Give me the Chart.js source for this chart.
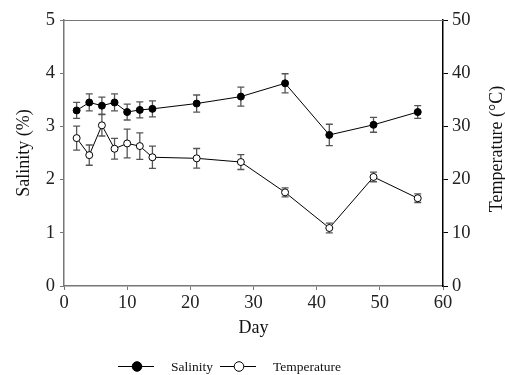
<!DOCTYPE html>
<html>
<head>
<meta charset="utf-8">
<script src="https://cdn.jsdelivr.net/npm/chart.js@4"></script>
<style>
  html, body { margin: 0; padding: 0; background: #fff; }
  #wrap { width: 505px; height: 375px; }
</style>
</head>
<body>
<div id="wrap"><canvas id="chart" width="505" height="375"></canvas></div>
<script>
// values
var days = [2, 4, 6, 8, 10, 12, 14, 21, 28, 35, 42, 49, 56];
var salinity = [3.30, 3.45, 3.39, 3.45, 3.27, 3.31, 3.33, 3.43, 3.56, 3.81, 2.84, 3.03, 3.27];
var salinityErr = [0.15, 0.16, 0.16, 0.16, 0.15, 0.15, 0.15, 0.16, 0.18, 0.18, 0.20, 0.14, 0.12];
var temperature = [27.8, 24.6, 30.2, 25.8, 26.8, 26.3, 24.2, 24.0, 23.3, 17.6, 10.9, 20.5, 16.5];
var temperatureErr = [2.25, 1.9, 2.0, 1.95, 2.7, 2.5, 2.1, 1.85, 1.4, 0.85, 0.9, 0.9, 0.8];
var xTicks = [0, 10, 20, 30, 40, 50, 60];

var serif = "'Liberation Serif', 'Times New Roman', serif";

function pairs(ys) {
  return days.map(function(d, i) { return { x: d, y: ys[i] }; });
}

// error bars, drawn under the markers
var errorBars = {
  id: 'errorBars',
  beforeDatasetsDraw: function(chart) {
    var ctx = chart.ctx;
    var xs = chart.scales.x;
    ctx.save();
    ctx.strokeStyle = '#555';
    ctx.lineWidth = 1.3;
    chart.data.datasets.forEach(function(ds) {
      var ys = chart.scales[ds.yAxisID];
      ds.errors.forEach(function(e, i) {
        var px = xs.getPixelForValue(days[i]);
        var top = ys.getPixelForValue(ds.data[i].y + e);
        var bot = ys.getPixelForValue(ds.data[i].y - e);
        ctx.beginPath();
        ctx.moveTo(px, top); ctx.lineTo(px, bot);
        ctx.moveTo(px - 3.5, top); ctx.lineTo(px + 3.5, top);
        ctx.moveTo(px - 3.5, bot); ctx.lineTo(px + 3.5, bot);
        ctx.stroke();
      });
    });
    ctx.restore();
  }
};

// top frame line, right-hand title (reads bottom to top) and the legend row
var extras = {
  id: 'extras',
  afterDraw: function(chart) {
    var a = chart.chartArea, ctx = chart.ctx;
    ctx.save();
    ctx.strokeStyle = '#777';
    ctx.lineWidth = 1;
    ctx.beginPath();
    ctx.moveTo(a.left, a.top + 0.5);
    ctx.lineTo(a.right, a.top + 0.5);
    ctx.stroke();

    // right axis title
    ctx.fillStyle = '#111';
    ctx.font = '18px ' + serif;
    ctx.textAlign = 'center';
    ctx.textBaseline = 'middle';
    ctx.save();
    ctx.translate(497, (a.top + a.bottom) / 2 - 4);
    ctx.rotate(-Math.PI / 2);
    ctx.fillText('Temperature (°C)', 0, 0);
    ctx.restore();

    // legend
    var y = 366, x = 118;
    ctx.font = '13.5px ' + serif;
    ctx.textAlign = 'left';
    chart.data.datasets.forEach(function(ds, i) {
      ctx.strokeStyle = '#000';
      ctx.lineWidth = 1;
      ctx.beginPath(); ctx.moveTo(x, y + 0.5); ctx.lineTo(x + 36, y + 0.5); ctx.stroke();
      ctx.beginPath(); ctx.arc(x + 19, y + 0.5, 4.8, 0, Math.PI * 2);
      ctx.fillStyle = ds.pointBackgroundColor;
      ctx.fill(); ctx.stroke();
      ctx.fillStyle = '#111';
      ctx.fillText(ds.label, x + 53, y + 1);
      x += 53 + ctx.measureText(ds.label).width + 7;
    });
    ctx.restore();
  }
};

var config = {
  type: 'line',
  data: {
    datasets: [
      {
        label: 'Salinity',
        data: pairs(salinity),
        errors: salinityErr,
        yAxisID: 'y',
        borderColor: '#000',
        borderWidth: 1,
        pointRadius: 3.5,
        pointBackgroundColor: '#000',
        pointBorderColor: '#000',
        pointBorderWidth: 1,
        fill: false
      },
      {
        label: 'Temperature',
        data: pairs(temperature),
        errors: temperatureErr,
        yAxisID: 'y2',
        borderColor: '#000',
        borderWidth: 1,
        pointRadius: 3.5,
        pointBackgroundColor: '#fff',
        pointBorderColor: '#000',
        pointBorderWidth: 1,
        fill: false
      }
    ]
  },
  options: {
    responsive: false,
    animation: false,
    layout: { padding: { top: 20, right: 0, left: 0, bottom: 0 } },
    plugins: {
      tooltip: { enabled: false },
      legend: { display: false }
    },
    scales: {
      x: {
        type: 'linear',
        min: 0, max: 60,
        afterBuildTicks: function(s) { s.ticks = xTicks.map(function(v) { return { value: v }; }); },
        grid: { drawOnChartArea: false, tickLength: 4, color: '#777' },
        border: { color: '#777', width: 1.5 },
        ticks: { color: '#222', padding: 2, maxRotation: 0, font: { family: serif, size: 18.5 } },
        title: { display: true, text: 'Day', color: '#111', padding: { top: 0, bottom: 36 }, font: { family: serif, size: 18 } },
        afterFit: function(s) { s.height = 89; }
      },
      y: {
        position: 'left',
        min: 0, max: 5,
        ticks: { stepSize: 1, color: '#222', padding: 5, font: { family: serif, size: 18.5 } },
        grid: { drawOnChartArea: false, tickLength: 4, color: '#777' },
        border: { color: '#777', width: 1.5 },
        title: { display: true, text: 'Salinity (%)', color: '#111', padding: { top: 13, bottom: 0 }, font: { family: serif, size: 18 } },
        afterFit: function(s) { s.width = 64; }
      },
      y2: {
        position: 'right',
        min: 0, max: 50,
        ticks: { stepSize: 10, color: '#222', padding: 4, font: { family: serif, size: 18.5 } },
        grid: { drawOnChartArea: false, tickLength: 5, color: '#000' },
        border: { color: '#000', width: 1.5 },
        afterFit: function(s) { s.width = 62; }
      }
    }
  },
  plugins: [errorBars, extras]
};

new Chart(document.getElementById('chart').getContext('2d'), config);
</script>
</body>
</html>
